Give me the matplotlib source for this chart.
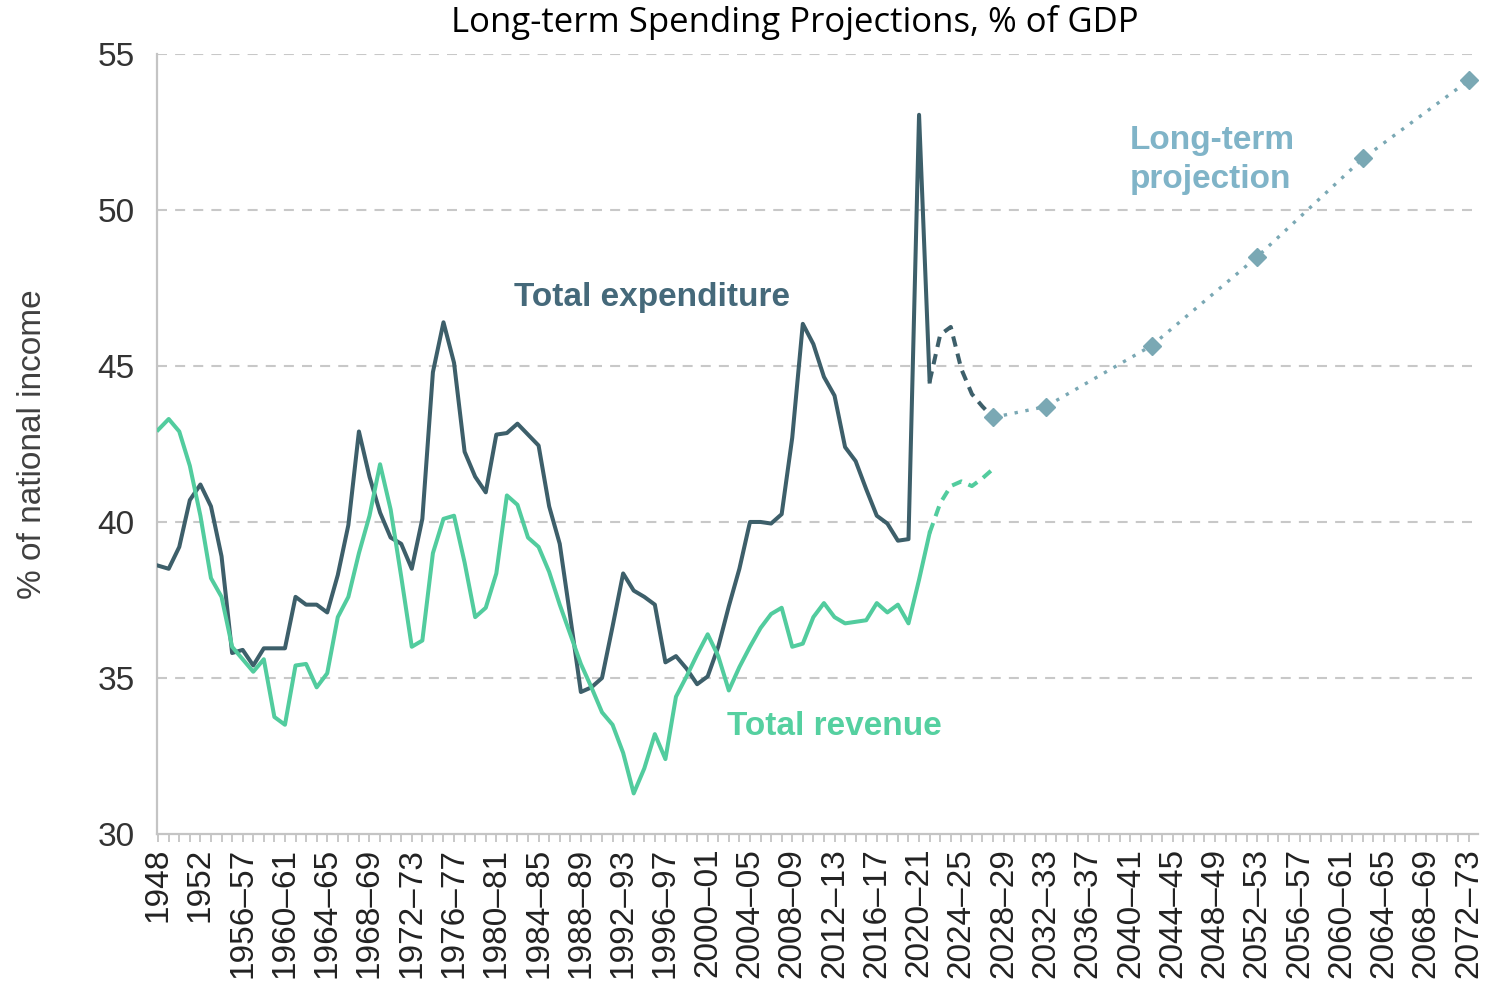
import matplotlib.pyplot as plt
from matplotlib.ticker import MultipleLocator

# outturn, % of national income
years = list(range(1948, 2022))
spending = [38.6, 38.5, 39.2, 40.7, 41.2, 40.5, 38.9, 35.8, 35.9, 35.4,
            35.95, 35.95, 35.95, 37.6, 37.35, 37.35, 37.1, 38.3, 39.9, 42.9,
            41.45, 40.3, 39.5, 39.3, 38.5, 40.1, 44.8, 46.4, 45.1, 42.25,
            41.45, 40.95, 42.8, 42.85, 43.15, 42.8, 42.45, 40.5, 39.3, 36.95,
            34.55, 34.7, 35.0, 36.65, 38.35, 37.8, 37.6, 37.35, 35.5, 35.7,
            35.3, 34.8, 35.05, 36.0, 37.3, 38.5, 40.0, 40.0, 39.95, 40.25,
            42.7, 46.35, 45.7, 44.65, 44.05, 42.4, 41.95, 41.05, 40.2, 39.95,
            39.4, 39.45, 53.05, 44.5]
revenue = [42.95, 43.3, 42.9, 41.8, 40.2, 38.2, 37.6, 36.0, 35.6, 35.2,
           35.6, 33.75, 33.5, 35.4, 35.45, 34.7, 35.15, 36.95, 37.6, 39.0,
           40.2, 41.85, 40.4, 38.25, 36.0, 36.2, 39.0, 40.1, 40.2, 38.7,
           36.95, 37.25, 38.35, 40.85, 40.55, 39.5, 39.2, 38.4, 37.35, 36.4,
           35.45, 34.7, 33.9, 33.5, 32.6, 31.3, 32.1, 33.2, 32.4, 34.4,
           35.05, 35.75, 36.4, 35.7, 34.6, 35.35, 36.0, 36.6, 37.05, 37.25,
           36.0, 36.1, 36.95, 37.4, 36.95, 36.75, 36.8, 36.85, 37.4, 37.1,
           37.35, 36.75, 38.15, 39.65]

# medium-term forecast
fc_years = list(range(2021, 2028))
fc_spending = [44.5, 46.0, 46.25, 44.9, 44.1, 43.7, 43.35]
fc_revenue = [39.65, 40.6, 41.15, 41.3, 41.15, 41.4, 41.7]

# long-term projection of spending
lt_years = [2027, 2032, 2042, 2052, 2062, 2072]
lt_spending = [43.35, 43.7, 45.65, 48.5, 51.65, 54.15]

tick_years = list(range(1948, 2073, 4))
tick_labels = [str(y) if y < 1956 else '%d–%02d' % (y, (y + 1) % 100) for y in tick_years]
y_ticks = [30, 35, 40, 45, 50, 55]

dark = '#3d5f6a'
green = '#52cc9e'
proj = '#7aa8b4'

plt.rcParams['font.family'] = ['Liberation Sans', 'DejaVu Sans']

fig = plt.figure(figsize=(14.86, 9.9), dpi=100)
ax = fig.add_axes([0.1057, 0.1576, 0.889, 0.7879])

ax.plot(years, spending, color=dark, lw=2.9, zorder=3)
ax.plot(years, revenue, color=green, lw=2.9, zorder=3)
ax.plot(fc_years, fc_spending, color=dark, lw=2.9, linestyle=(0, (2.6, 1.8)), zorder=3)
ax.plot(fc_years, fc_revenue, color=green, lw=2.9, linestyle=(0, (2.6, 1.8)), zorder=3)
ax.plot(lt_years, lt_spending, color=proj, lw=2.4, linestyle=(0, (1, 2.3)),
        marker='D', markersize=9, markeredgecolor=proj, zorder=4)

ax.set_xlim(1947.9, 2072.9)
ax.set_ylim(30, 55)
ax.set_yticks(y_ticks)
ax.set_xticks(tick_years)
ax.set_xticklabels(tick_labels, rotation=90)
ax.xaxis.set_minor_locator(MultipleLocator(1))
ax.tick_params(axis='x', which='both', length=6, width=1.2, color='#bfbfbf',
               labelsize=24, pad=4, labelcolor='#222222')
ax.tick_params(axis='y', length=0, labelsize=24, pad=16, labelcolor='#333333')

for v in y_ticks[1:]:
    ax.axhline(v, color='#c8c8c8', lw=1.5, linestyle=(0, (4.8, 3.9)), zorder=1)

for s in ['top', 'right']:
    ax.spines[s].set_visible(False)
for s in ['left', 'bottom']:
    ax.spines[s].set_color('#c4c4c4')
    ax.spines[s].set_linewidth(1.6)

ax.set_ylabel('% of national income', fontsize=24, color='#404040', labelpad=36)

ax.text(1994.7, 47.2, 'Total expenditure', color='#45697a', fontsize=24,
        fontweight='bold', ha='center', va='center')
ax.text(2012.0, 33.45, 'Total revenue', color='#55d0a0', fontsize=24,
        fontweight='bold', ha='center', va='center')
ax.text(2039.9, 51.6, 'Long-term\nprojection', color='#80b4c8', fontsize=24,
        fontweight='bold', ha='left', va='center', linespacing=1.35)

fig.text(0.535, 0.977, 'Long-term Spending Projections, % of GDP', fontsize=25,
         family=['Open Sans', 'DejaVu Sans'], ha='center', va='center', color='black')

fig.savefig('out.png', dpi=100)
